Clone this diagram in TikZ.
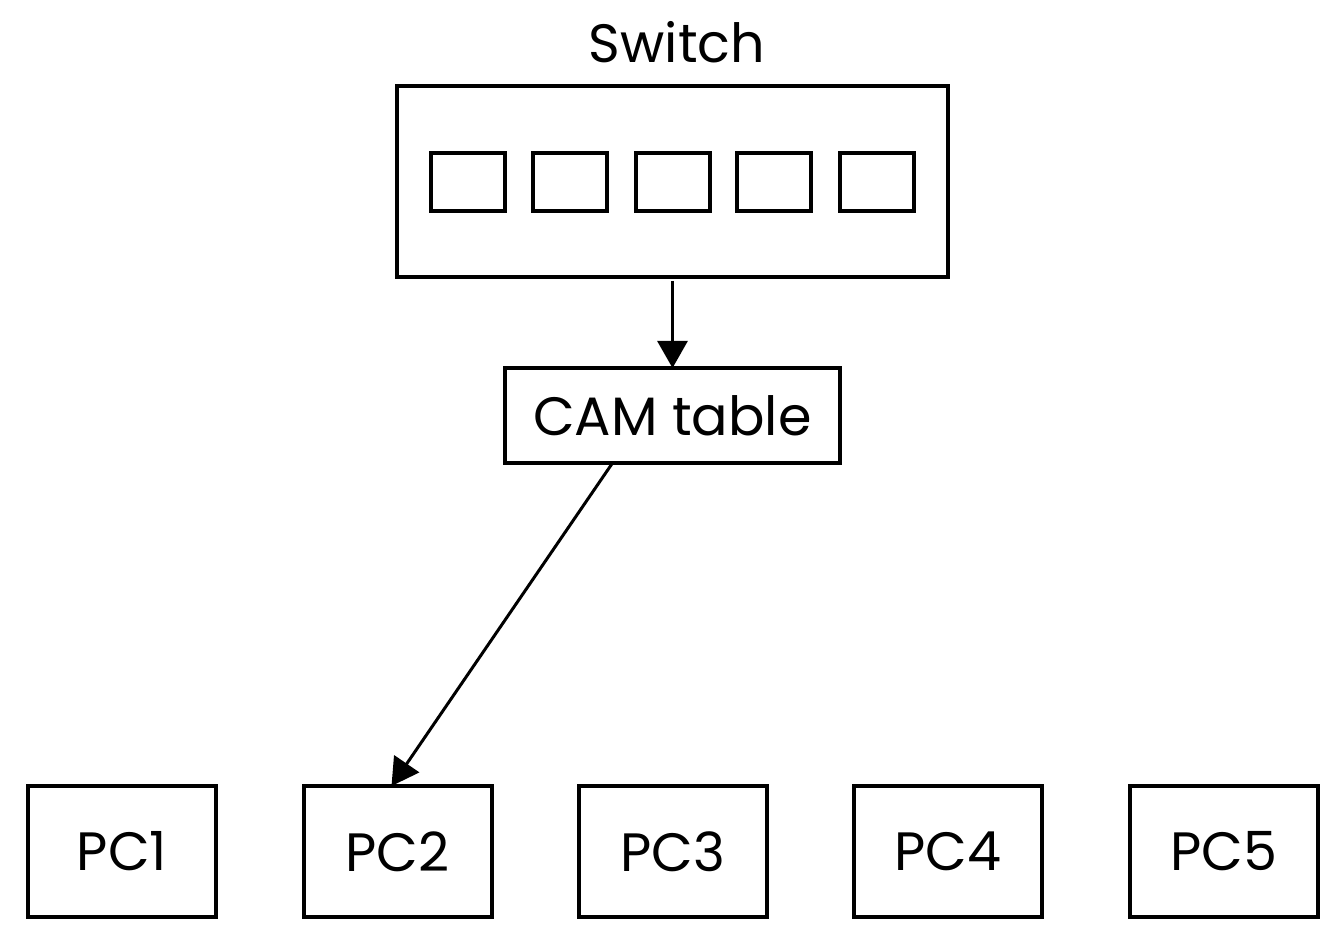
\documentclass[tikz,border=0pt]{standalone}
\usepackage{fontspec}
\setmainfont{Poppins}
\usetikzlibrary{arrows.meta}
\begin{document}
\begin{tikzpicture}[x=0.5pt,y=-0.5pt,
  box/.style={draw,line width=2pt,inner sep=0pt,outer sep=0pt,font=\fontsize{27}{31}\selectfont},
  port/.style={box,minimum width=37pt,minimum height=29pt},
  pcbox/.style={box,minimum width=94pt,minimum height=65.5pt},
  conn/.style={line width=1.5pt,-{Triangle[length=13.5pt,width=15pt]}},
  lbl/.style={inner sep=0pt,font=\fontsize{27}{31}\selectfont}]
\useasboundingbox (0,0) rectangle (1340,946);
\node[lbl] (swl) at (677,42) {Switch};
\node[box,minimum width=275.5pt,minimum height=95.5pt] (sw) at (672.5,181.5) {};
\node[port] (p1) at (468,182) {};
\node[port] (p2) at (570,182) {};
\node[port] (p3) at (672.5,182) {};
\node[port] (p4) at (774,182) {};
\node[port] (p5) at (876.5,182) {};
\node[box,minimum width=167.5pt,minimum height=47.5pt] (cam) at (672.5,415.5) {CAM table};
\node[pcbox] (pc1) at (122,851.5) {PC1};
\node[pcbox] (pc2) at (397.5,851.5) {PC2};
\node[pcbox] (pc3) at (673,851.5) {PC3};
\node[pcbox] (pc4) at (948,851.5) {PC4};
\node[pcbox] (pc5) at (1223.5,851.5) {PC5};
\draw[conn,shorten <=2pt] (sw.south) -- (cam.north);
\draw[conn] ([xshift=-30pt]cam.south) -- ([xshift=-3pt]pc2.north);
\end{tikzpicture}
\end{document}
